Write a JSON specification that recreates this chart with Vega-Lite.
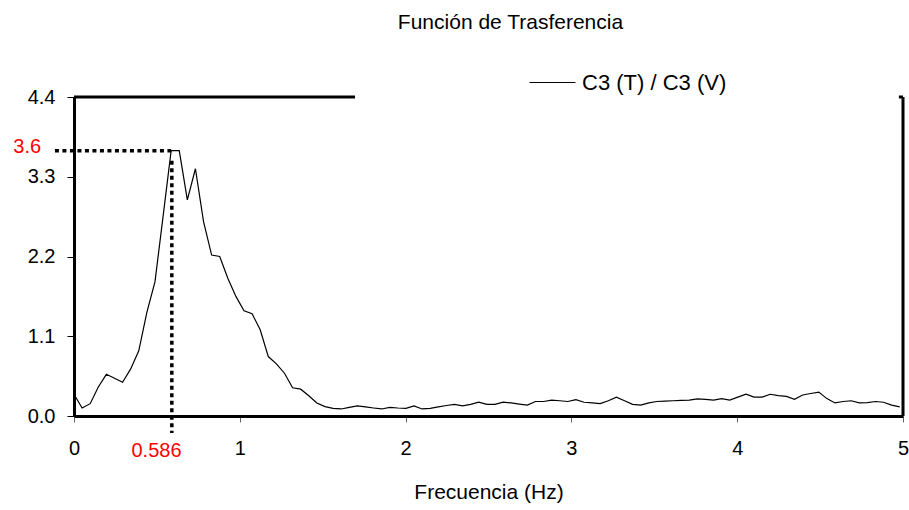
{
  "$schema": "https://vega.github.io/schema/vega-lite/v6.json",
  "width": 829,
  "height": 319,
  "autosize": {"type": "none"},
  "padding": {"left": 74, "top": 97, "right": 6, "bottom": 94},
  "title": {"text": "Función de Trasferencia", "font": "Liberation Sans", "fontSize": 21, "fontWeight": "normal", "color": "black", "anchor": "middle", "frame": "group", "dx": 22, "offset": 26},
  "config": {"view": {"stroke": null}, "font": "Liberation Sans"},
  "layer": [
    {
      "data": {"values": [
        {"f": 0, "v": 0.30}, {"f": 0.0488, "v": 0.11}, {"f": 0.0977, "v": 0.17}, {"f": 0.1465, "v": 0.40},
        {"f": 0.1953, "v": 0.575}, {"f": 0.2441, "v": 0.52}, {"f": 0.293, "v": 0.465}, {"f": 0.3418, "v": 0.65},
        {"f": 0.3906, "v": 0.90}, {"f": 0.4395, "v": 1.43}, {"f": 0.4883, "v": 1.85}, {"f": 0.5371, "v": 2.75},
        {"f": 0.5859, "v": 3.66}, {"f": 0.6348, "v": 3.66}, {"f": 0.6836, "v": 2.98}, {"f": 0.7324, "v": 3.41},
        {"f": 0.7813, "v": 2.68}, {"f": 0.8301, "v": 2.22}, {"f": 0.8789, "v": 2.20}, {"f": 0.9277, "v": 1.90},
        {"f": 0.9766, "v": 1.65}, {"f": 1.0254, "v": 1.45}, {"f": 1.0742, "v": 1.41}, {"f": 1.123, "v": 1.19},
        {"f": 1.1719, "v": 0.82}, {"f": 1.2207, "v": 0.72}, {"f": 1.2695, "v": 0.59}, {"f": 1.3184, "v": 0.39},
        {"f": 1.3672, "v": 0.37}, {"f": 1.416, "v": 0.28}, {"f": 1.4648, "v": 0.18}, {"f": 1.5137, "v": 0.13},
        {"f": 1.5625, "v": 0.105}, {"f": 1.6113, "v": 0.097}, {"f": 1.6602, "v": 0.12}, {"f": 1.709, "v": 0.14},
        {"f": 1.7578, "v": 0.125}, {"f": 1.8066, "v": 0.11}, {"f": 1.8555, "v": 0.097}, {"f": 1.9043, "v": 0.12},
        {"f": 1.9531, "v": 0.11}, {"f": 2.002, "v": 0.105}, {"f": 2.0508, "v": 0.14}, {"f": 2.0996, "v": 0.097},
        {"f": 2.1484, "v": 0.105}, {"f": 2.1973, "v": 0.125}, {"f": 2.2461, "v": 0.145}, {"f": 2.2949, "v": 0.16},
        {"f": 2.3438, "v": 0.14}, {"f": 2.3926, "v": 0.16}, {"f": 2.4414, "v": 0.19}, {"f": 2.4902, "v": 0.16},
        {"f": 2.5391, "v": 0.16}, {"f": 2.5879, "v": 0.19}, {"f": 2.6367, "v": 0.18}, {"f": 2.6855, "v": 0.165},
        {"f": 2.7344, "v": 0.15}, {"f": 2.7832, "v": 0.20}, {"f": 2.832, "v": 0.20}, {"f": 2.8809, "v": 0.22},
        {"f": 2.9297, "v": 0.21}, {"f": 2.9785, "v": 0.20}, {"f": 3.0273, "v": 0.225}, {"f": 3.0762, "v": 0.19},
        {"f": 3.125, "v": 0.18}, {"f": 3.1738, "v": 0.17}, {"f": 3.2227, "v": 0.21}, {"f": 3.2715, "v": 0.26},
        {"f": 3.3203, "v": 0.21}, {"f": 3.3691, "v": 0.16}, {"f": 3.418, "v": 0.15}, {"f": 3.4668, "v": 0.18},
        {"f": 3.5156, "v": 0.20}, {"f": 3.5645, "v": 0.205}, {"f": 3.6133, "v": 0.21}, {"f": 3.6621, "v": 0.215},
        {"f": 3.7109, "v": 0.22}, {"f": 3.7598, "v": 0.235}, {"f": 3.8086, "v": 0.23}, {"f": 3.8574, "v": 0.22},
        {"f": 3.9063, "v": 0.24}, {"f": 3.9551, "v": 0.22}, {"f": 4.0039, "v": 0.26}, {"f": 4.0527, "v": 0.30},
        {"f": 4.1016, "v": 0.26}, {"f": 4.1504, "v": 0.26}, {"f": 4.1992, "v": 0.30}, {"f": 4.248, "v": 0.28},
        {"f": 4.2969, "v": 0.27}, {"f": 4.3457, "v": 0.23}, {"f": 4.3945, "v": 0.29}, {"f": 4.4434, "v": 0.31},
        {"f": 4.4922, "v": 0.33}, {"f": 4.541, "v": 0.24}, {"f": 4.5898, "v": 0.18}, {"f": 4.6387, "v": 0.20},
        {"f": 4.6875, "v": 0.21}, {"f": 4.7363, "v": 0.18}, {"f": 4.7852, "v": 0.185}, {"f": 4.834, "v": 0.20},
        {"f": 4.8828, "v": 0.19}, {"f": 4.9316, "v": 0.15}, {"f": 4.9805, "v": 0.125}
      ]},
      "mark": {"type": "line", "strokeWidth": 1.2},
      "encoding": {
        "x": {"field": "f", "type": "quantitative", "scale": {"domain": [0, 5], "nice": false, "zero": false},
          "axis": {"values": [0, 1, 2, 3, 4, 5], "format": "d", "grid": false, "domainColor": "black", "domainWidth": 3, "tickColor": "#666666", "tickWidth": 1, "tickSize": 6, "labelFont": "Liberation Sans", "labelFontSize": 20, "labelColor": "black", "labelPadding": 16, "labelFlush": false, "title": "Frecuencia (Hz)", "titleFont": "Liberation Sans", "titleFontSize": 21, "titleFontWeight": "normal", "titleColor": "black", "titlePadding": 23}},
        "y": {"field": "v", "type": "quantitative", "scale": {"domain": [0, 4.4], "nice": false},
          "axis": {"values": [0, 1.1, 2.2, 3.3, 4.4], "format": ".1f", "grid": false, "domainColor": "black", "domainWidth": 3, "tickColor": "black", "tickWidth": 1, "tickSize": 7, "labelFont": "Liberation Sans", "labelFontSize": 20, "labelColor": "black", "labelPadding": 12, "title": null}},
        "color": {"datum": "C3 (T) / C3 (V)", "type": "nominal", "scale": {"range": ["black"]},
          "legend": {"orient": "none", "legendX": 455, "legendY": -38, "title": null, "symbolType": "stroke", "symbolSize": 2116, "symbolStrokeWidth": 1, "labelFont": "Liberation Sans", "labelFontSize": 22, "labelColor": "black", "labelOffset": 6, "labelLimit": 400}}
      }
    },
    {
      "data": {"values": [
        {"x": 0, "x2": 1.695, "y": 4.4, "y2": 4.4},
        {"x": 4.975, "x2": 5, "y": 4.4, "y2": 4.4},
        {"x": 5, "x2": 5, "y": 0, "y2": 4.4}
      ]},
      "mark": {"type": "rule", "color": "black", "strokeWidth": 3},
      "encoding": {
        "x": {"field": "x", "type": "quantitative", "scale": {"domain": [0, 5], "nice": false, "zero": false}},
        "x2": {"field": "x2"},
        "y": {"field": "y", "type": "quantitative", "scale": {"domain": [0, 4.4], "nice": false}},
        "y2": {"field": "y2"}
      }
    },
    {
      "data": {"values": [
        {"x": -0.115, "x2": 0.586, "y": 3.66, "y2": 3.66},
        {"x": 0.59, "x2": 0.59, "y": 3.52, "y2": -0.234}
      ]},
      "mark": {"type": "rule", "color": "black", "strokeWidth": 3.5, "strokeDash": [4, 3.5]},
      "encoding": {
        "x": {"field": "x", "type": "quantitative", "scale": {"domain": [0, 5], "nice": false, "zero": false}},
        "x2": {"field": "x2"},
        "y": {"field": "y", "type": "quantitative", "scale": {"domain": [0, 4.4], "nice": false}},
        "y2": {"field": "y2"}
      }
    },
    {
      "data": {"values": [
        {"x": -0.282, "y": 3.71, "t": "3.6"},
        {"x": 0.4975, "y": -0.476, "t": "0.586"}
      ]},
      "mark": {"type": "text", "color": "red", "font": "Liberation Sans", "fontSize": 20, "align": "center", "baseline": "middle"},
      "encoding": {
        "x": {"field": "x", "type": "quantitative", "scale": {"domain": [0, 5], "nice": false, "zero": false}},
        "y": {"field": "y", "type": "quantitative", "scale": {"domain": [0, 4.4], "nice": false}},
        "text": {"field": "t"}
      }
    }
  ]
}
